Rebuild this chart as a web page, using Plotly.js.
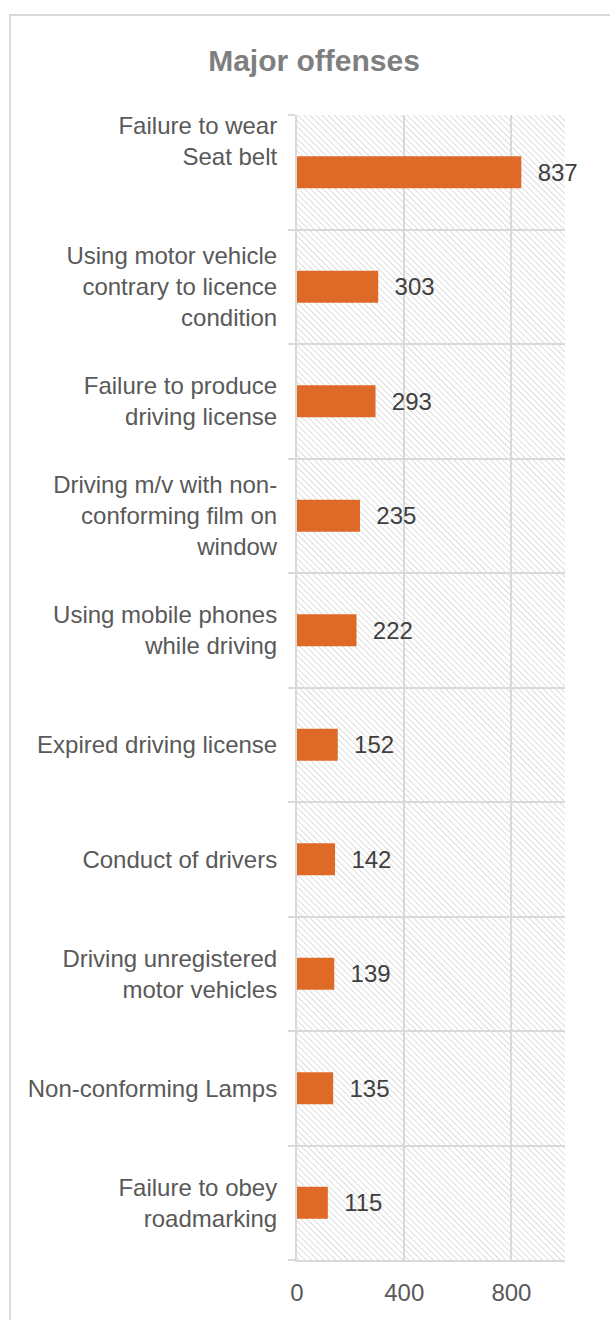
<!DOCTYPE html>
<html>
<head>
<meta charset="utf-8">
<script src="https://cdn.plot.ly/plotly-3.0.1.min.js"></script>
<style>
  html, body { margin: 0; padding: 0; background: #ffffff; }
  #chart { position: absolute; left: 0; top: 0; width: 610px; height: 1320px; }
  #frame { position: absolute; left: 9px; top: 14px; width: 700px; height: 1400px;
           border-left: 2px solid #d9d9d9; border-top: 2px solid #d9d9d9; pointer-events: none; }
</style>
</head>
<body>
<div id="chart"></div>
<div id="frame"></div>
<script>
// ---- data ----
const titleText = "Major offenses";
const categories = [
  "Failure to wear Seat belt",
  "Using motor vehicle contrary to licence condition",
  "Failure to produce driving license",
  "Driving m/v with non-conforming film on window",
  "Using mobile phones while driving",
  "Expired driving license",
  "Conduct of drivers",
  "Driving unregistered motor vehicles",
  "Non-conforming Lamps",
  "Failure to obey roadmarking"
];
const categoryLabels = [
  "Failure to wear<br>Seat belt<br> <br> ",
  "Using motor vehicle<br>contrary to licence<br>condition",
  "Failure to produce<br>driving license",
  "Driving m/v with non-<br>conforming film on<br>window",
  "Using mobile phones<br>while driving",
  "Expired driving license",
  "Conduct of drivers",
  "Driving unregistered<br>motor vehicles",
  "Non-conforming Lamps",
  "Failure to obey<br>roadmarking"
];
const offenses = [837, 303, 293, 235, 222, 152, 142, 139, 135, 115];
const xTickValues = [0, 400, 800];

// ---- styling ----
const FONT = "'Liberation Sans', Arial, sans-serif";
const W = 610, H = 1320;
const margin = {l: 297, r: 45, t: 115, b: 60};
const plotW = W - margin.l - margin.r, plotH = H - margin.t - margin.b;

// diagonal hatch background for the plot area
const hatchSvg =
  '<svg xmlns="http://www.w3.org/2000/svg" width="' + plotW + '" height="' + plotH + '">' +
  '<defs><pattern id="p" width="4.3" height="4.3" patternUnits="userSpaceOnUse" patternTransform="rotate(-45)">' +
  '<line x1="0" y1="0" x2="0" y2="4.3" stroke="#d0d0d0" stroke-width="1.4"/></pattern></defs>' +
  '<rect width="100%" height="100%" fill="#ffffff"/>' +
  '<rect width="100%" height="100%" fill="url(#p)"/></svg>';
const hatchUri = 'data:image/svg+xml;base64,' + btoa(hatchSvg);

const trace = {
  type: 'bar',
  orientation: 'h',
  y: categories,
  x: offenses,
  width: 0.28,
  marker: {color: '#df6a27', line: {width: 0}},
  text: offenses.map(v => '\u00a0\u00a0' + v),
  textposition: 'outside',
  cliponaxis: false,
  textfont: {family: FONT, size: 24, color: '#404040'},
  hoverinfo: 'x+y'
};

const layout = {
  width: W, height: H,
  margin: margin,
  paper_bgcolor: 'rgba(0,0,0,0)',
  plot_bgcolor: 'rgba(0,0,0,0)',
  showlegend: false,
  font: {family: FONT, color: '#595959'},
  title: {
    text: '<b>' + titleText + '</b>',
    font: {family: FONT, size: 30, color: '#7f7f7f'},
    x: 314 / W, xref: 'container', xanchor: 'center',
    y: 1 - 60 / H, yref: 'container', yanchor: 'middle'
  },
  xaxis: {
    range: [0, 1000],
    tickmode: 'array',
    tickvals: xTickValues,
    ticktext: xTickValues.map(String),
    showgrid: true, gridcolor: '#d9d9d9', gridwidth: 2,
    zeroline: false,
    showline: true, linecolor: '#d9d9d9', linewidth: 2,
    ticks: '',
    ticklabelstandoff: 10,
    tickfont: {family: FONT, size: 24, color: '#595959'},
    fixedrange: true
  },
  yaxis: {
    type: 'category',
    autorange: 'reversed',
    tickmode: 'array',
    tickvals: categories,
    ticktext: categoryLabels,
    tickson: 'boundaries',
    ticks: 'outside', ticklen: 7, tickwidth: 2, tickcolor: '#d9d9d9',
    showgrid: true, gridcolor: '#d9d9d9', gridwidth: 2,
    showline: true, linecolor: '#d9d9d9', linewidth: 2,
    zeroline: false,
    ticklabelstandoff: 13,
    tickfont: {family: FONT, size: 24, color: '#595959'},
    fixedrange: true
  },
  images: [{
    source: hatchUri, xref: 'paper', yref: 'paper',
    x: 0, y: 1, sizex: 1, sizey: 1, xanchor: 'left', yanchor: 'top',
    sizing: 'stretch', layer: 'below'
  }],
  bargap: 0.72
};

Plotly.newPlot('chart', [trace], layout, {staticPlot: true, displayModeBar: false});
</script>
</body>
</html>
